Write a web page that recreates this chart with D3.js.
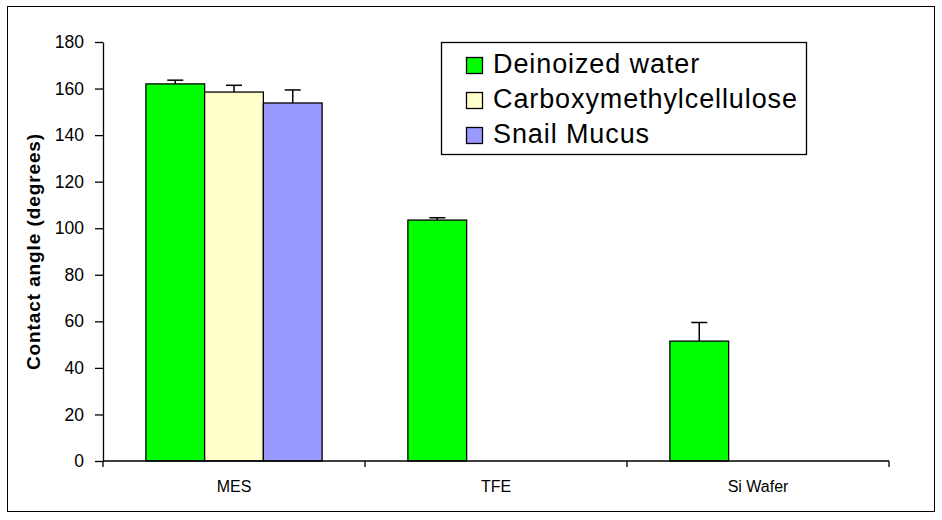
<!DOCTYPE html>
<html><head><meta charset="utf-8">
<script src="https://cdn.jsdelivr.net/npm/d3@7"></script>
<style>html,body{margin:0;padding:0;background:#fff;} svg{display:block;font-family:"Liberation Sans",Arial,sans-serif;}</style>
</head><body><svg id="c" width="942" height="520"></svg>
<script>
const categories = ["MES", "TFE", "Si Wafer"];
const seriesNames = ["Deinoized water", "Carboxymethylcellulose", "Snail Mucus"];
const seriesColors = ["#00FF00", "#FFFFCC", "#9999FF"];
const deionizedWater = [162, 103.5, 51.5];
const deionizedWaterErr = [1.6, 1, 8];
const cmc = [158.5, null, null];
const cmcErr = [2.9, null, null];
const snailMucus = [153.8, null, null];
const snailMucusErr = [5.6, null, null];
const yTicks = [0, 20, 40, 60, 80, 100, 120, 140, 160, 180];

(function () {
const values = [deionizedWater, cmc, snailMucus];
const errs = [deionizedWaterErr, cmcErr, snailMucusErr];

const svg = d3.select("#c");
svg.append("rect").attr("x", 7.5).attr("y", 6.5).attr("width", 927).attr("height", 505)
  .attr("fill", "#fff").attr("stroke", "#000").attr("stroke-width", 1);

const mLeft = 103, mRight = 889, mTop = 42, mBottom = 461;
const x0 = d3.scaleBand().domain(categories).range([mLeft, mRight]).padding(0);
const x1 = d3.scaleBand().domain(seriesNames).range([0, x0.bandwidth()]).paddingInner(0).paddingOuter(0.73);
const y = d3.scaleLinear().domain([0, 180]).range([mBottom, mTop]);

// y axis
const yAxis = svg.append("g").attr("transform", `translate(${mLeft},0)`)
  .call(d3.axisLeft(y).tickValues(yTicks).tickSize(8).tickSizeOuter(0).tickPadding(11));
yAxis.select(".domain").attr("stroke", "#000").attr("stroke-width", 1.3);
yAxis.selectAll(".tick line").attr("stroke", "#000").attr("stroke-width", 1.3);
yAxis.selectAll(".tick text").attr("font-size", 17.5).attr("fill", "#000")
  .attr("font-family", "'Liberation Sans', Arial, sans-serif");

// bars
categories.forEach((cat, ci) => {
  seriesNames.forEach((s, si) => {
    const v = values[si][ci];
    if (v == null) return;
    const bx = x0(cat) + x1(s);
    const bw = x1.bandwidth();
    const e = errs[si][ci];
    const cx = bx + bw / 2;
    svg.append("line").attr("x1", cx).attr("x2", cx).attr("y1", y(v)).attr("y2", y(v + e))
      .attr("stroke", "#000").attr("stroke-width", 1.5);
    svg.append("line").attr("x1", cx - 8).attr("x2", cx + 8).attr("y1", y(v + e)).attr("y2", y(v + e))
      .attr("stroke", "#000").attr("stroke-width", 1.5);
    svg.append("rect").attr("x", bx).attr("y", y(v)).attr("width", bw).attr("height", y(0) - y(v))
      .attr("fill", seriesColors[si]).attr("stroke", "#000").attr("stroke-width", 1.3);
  });
});

// x axis
const xg = svg.append("g").attr("transform", `translate(0,${mBottom})`);
xg.append("line").attr("x1", mLeft).attr("x2", mRight).attr("stroke", "#000").attr("stroke-width", 1.3);
const bounds = categories.map(c => x0(c)).concat([mRight]);
xg.selectAll("line.tk").data(bounds).enter().append("line").attr("class", "tk")
  .attr("x1", d => d).attr("x2", d => d).attr("y1", 0).attr("y2", 6).attr("stroke", "#000").attr("stroke-width", 1.3);
xg.selectAll("text").data(categories).enter().append("text")
  .attr("x", d => x0(d) + x0.bandwidth() / 2).attr("y", 31).attr("text-anchor", "middle")
  .attr("font-size", 16).attr("fill", "#000").text(d => d);

// y title
svg.append("text").attr("transform", `translate(40,${(mTop + mBottom) / 2}) rotate(-90)`)
  .attr("text-anchor", "middle").attr("font-size", 19).attr("font-weight", "bold")
  .attr("letter-spacing", 0.9).text("Contact angle (degrees)");

// legend
const lg = svg.append("g");
lg.append("rect").attr("x", 441.5).attr("y", 42.5).attr("width", 365).attr("height", 112)
  .attr("fill", "#fff").attr("stroke", "#000").attr("stroke-width", 1.3);
seriesNames.forEach((s, i) => {
  const yy = 57 + i * 35;
  lg.append("rect").attr("x", 466.5).attr("y", yy + 0.5).attr("width", 16).attr("height", 16)
    .attr("fill", seriesColors[i]).attr("stroke", "#000").attr("stroke-width", 1.3);
  lg.append("text").attr("x", 493).attr("y", yy + 16).attr("font-size", 27).attr("letter-spacing", 0.9)
    .attr("fill", "#000").text(s);
});
})();
</script></body></html>
